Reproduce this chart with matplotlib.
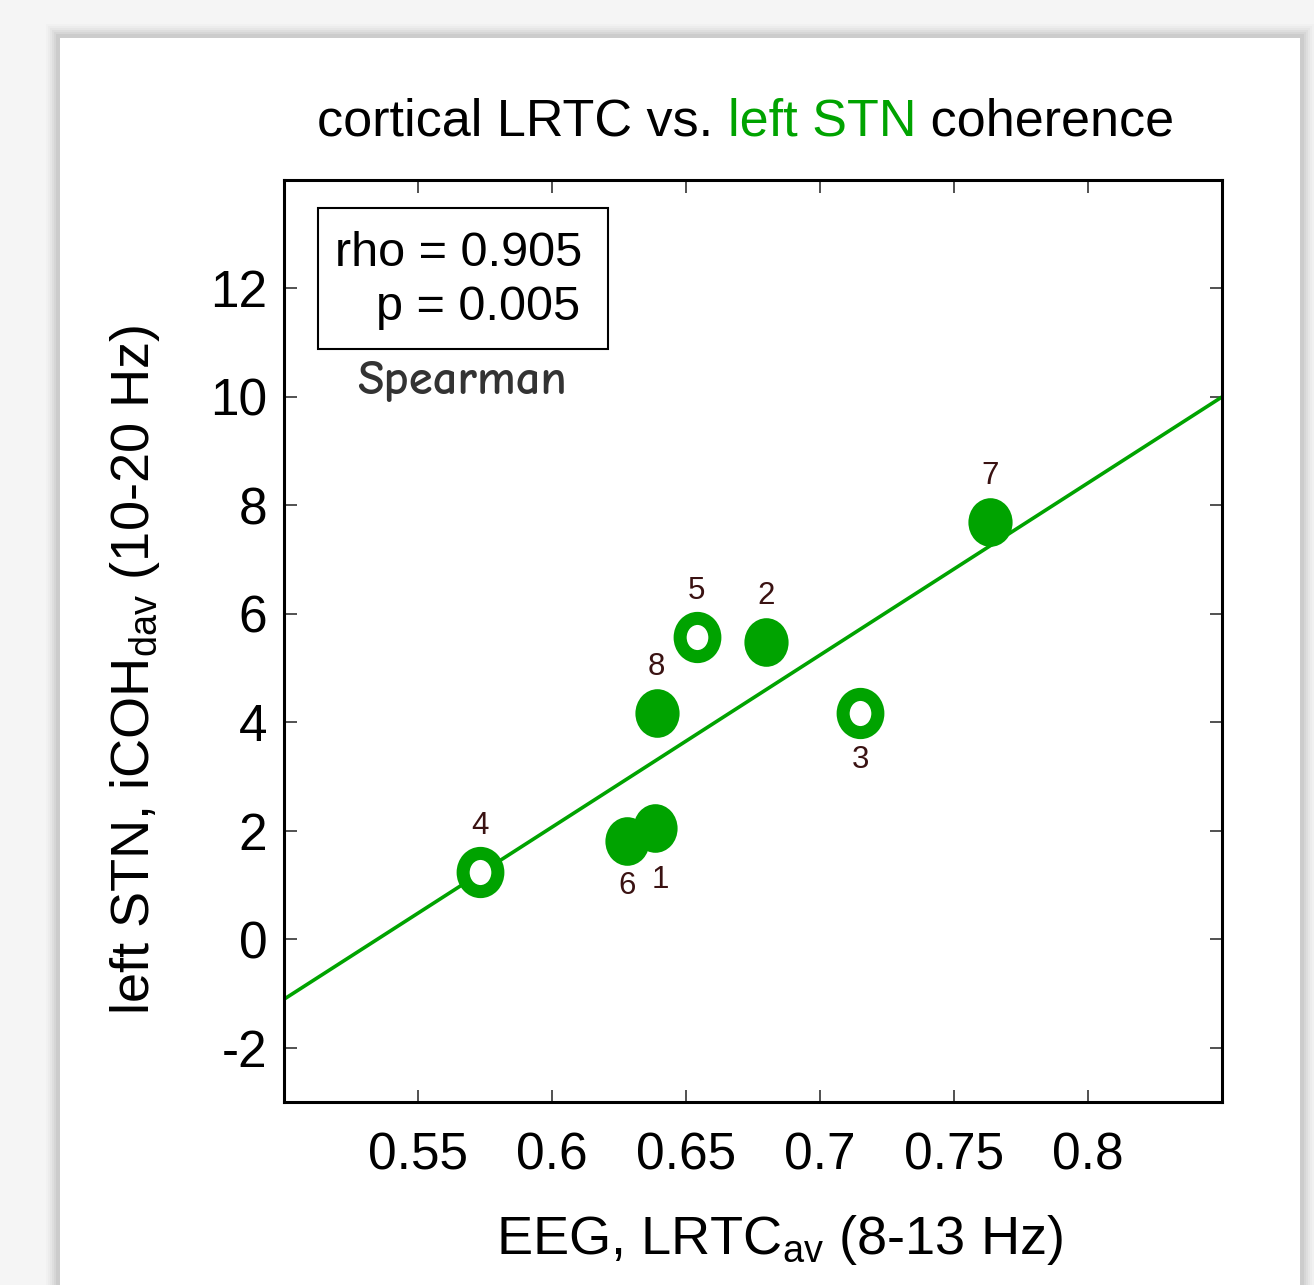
import matplotlib
matplotlib.use("Agg")
import matplotlib.pyplot as plt
import numpy as np
from matplotlib.path import Path
from matplotlib.patches import Rectangle

plt.rcParams['font.family'] = ['Liberation Sans', 'DejaVu Sans']

# ---- data ----
subjects = ['1', '2', '3', '4', '5', '6', '7', '8']
lrtc = [0.6385, 0.680, 0.715, 0.573, 0.654, 0.628, 0.7636, 0.639]
icoh = [2.06, 5.49, 4.17, 1.25, 5.57, 1.81, 7.69, 4.17]
is_open = [False, False, True, True, True, False, False, False]
label_side = ['below_r', 'above', 'below', 'above', 'above', 'below', 'above', 'above']
fit_slope = 31.73
fit_intercept = -16.97
xticks = [0.55, 0.6, 0.65, 0.7, 0.75, 0.8]
xticklabels = ['0.55', '0.6', '0.65', '0.7', '0.75', '0.8']
yticks = [-2, 0, 2, 4, 6, 8, 10, 12]
xlim = (0.5, 0.85)
ylim = (-3, 14)
rho_line = 'rho = 0.905'
p_line = 'p = 0.005'

GREEN = '#00a300'
LABEL_C = '#3a1212'

W, H = 1314, 1285
fig = plt.figure(figsize=(W / 100, H / 100), dpi=100)
fig.patch.set_facecolor('#f5f5f5')

# card with soft shadow
cx0, cy0, cx1 = 60, 38, 1300
for i, a in enumerate([0.015, 0.02, 0.025, 0.03, 0.035, 0.045]):
    s = 14 - 2 * i
    fig.patches.append(Rectangle(((cx0 - s) / W, 0), (cx1 - cx0 + 2 * s) / W, (H - cy0 + s) / H,
                                 transform=fig.transFigure, facecolor='black', alpha=a,
                                 edgecolor='none', zorder=0))
fig.patches.append(Rectangle((cx0 / W, 0), (cx1 - cx0) / W, (H - cy0) / H,
                             transform=fig.transFigure, facecolor='white', edgecolor='none', zorder=1))

ax = fig.add_axes([284 / W, 1 - 1102 / H, (1222 - 284) / W, (1102 - 180) / H])
ax.set_facecolor('white')
ax.set_zorder(2)

# regression line
xl = np.array(xlim)
ax.plot(xl, fit_slope * xl + fit_intercept, color=GREEN, lw=2.6, zorder=2, clip_on=True)

# elliptical marker
circ = Path.unit_circle()
ell = Path(circ.vertices * np.array([1.0, 1.1]), circ.codes)

for x, y, o in zip(lrtc, icoh, is_open):
    if o:
        ax.plot([x], [y], marker=ell, ms=27.5, mfc='white', mec=GREEN, mew=9.4,
                ls='none', zorder=3)
    else:
        ax.plot([x], [y], marker=ell, ms=35, mfc=GREEN, mec=GREEN, mew=0,
                ls='none', zorder=3)

offsets = {'above': (0, 33), 'below': (0, -34), 'below_r': (4, -38)}
for s, x, y, side in zip(subjects, lrtc, icoh, label_side):
    dx, dy = offsets[side]
    if s == '6':
        dy = -32
    ax.annotate(s, (x, y), xytext=(dx, dy), textcoords='offset points',
                ha='center', va='center', fontsize=22.5, color=LABEL_C, zorder=4)

ax.set_xlim(*xlim)
ax.set_ylim(*ylim)
ax.set_xticks(xticks)
ax.set_xticklabels(xticklabels)
ax.set_yticks(yticks)
ax.set_yticklabels([str(t) for t in yticks])
ax.tick_params(direction='in', length=9, width=1.2, top=True, right=True,
               labelsize=37, pad=21, color='#333333')
ax.tick_params(axis='y', pad=12)
for sp in ax.spines.values():
    sp.set_linewidth(2.2)

ax.set_xlabel(r'EEG, LRTC$_{\mathregular{av}}$ (8-13 Hz)', fontsize=39)
ax.xaxis.set_label_coords(0.528, -0.1497)
ax.xaxis.label.set_va('center')
ax.set_ylabel(r'left STN, iCOH$_{\mathregular{dav}}$ (10-20 Hz)', fontsize=39)
ax.yaxis.set_label_coords(-0.159, 0.4686)
ax.yaxis.label.set_va('center')

# stats box
ax.text(0.318, 1 - (254 - 180) / 922, rho_line, transform=ax.transAxes, fontsize=35,
        ha='right', va='center', zorder=5)
ax.text(0.316, 1 - (308 - 180) / 922, p_line, transform=ax.transAxes, fontsize=35,
        ha='right', va='center', zorder=5)
ax.add_patch(Rectangle((34 / 938, 1 - 169 / 922), 290 / 938, 141 / 922, transform=ax.transAxes,
                       fill=False, edgecolor='black', lw=1.5, zorder=5))
ax.text((462 - 284) / 938, 1 - (381 - 180) / 922, 'Spearman', transform=ax.transAxes,
        fontsize=35, ha='center', va='center', color='#333333', weight='bold',
        family=['Comic Neue', 'DejaVu Sans'])

# title with coloured part
parts = [('cortical LRTC vs. ', 'black'), ('left STN', GREEN), (' coherence', 'black')]
fs = 37.5
renderer = fig.canvas.get_renderer()
x0 = 317 / W
for t, c in parts:
    tt = fig.text(x0, 1 - 122 / H, t, color=c, fontsize=fs, ha='left', va='center', zorder=5)
    bb = tt.get_window_extent(renderer=renderer)
    x0 += bb.width / W

fig.savefig('out.png', dpi=100, facecolor=fig.get_facecolor())
